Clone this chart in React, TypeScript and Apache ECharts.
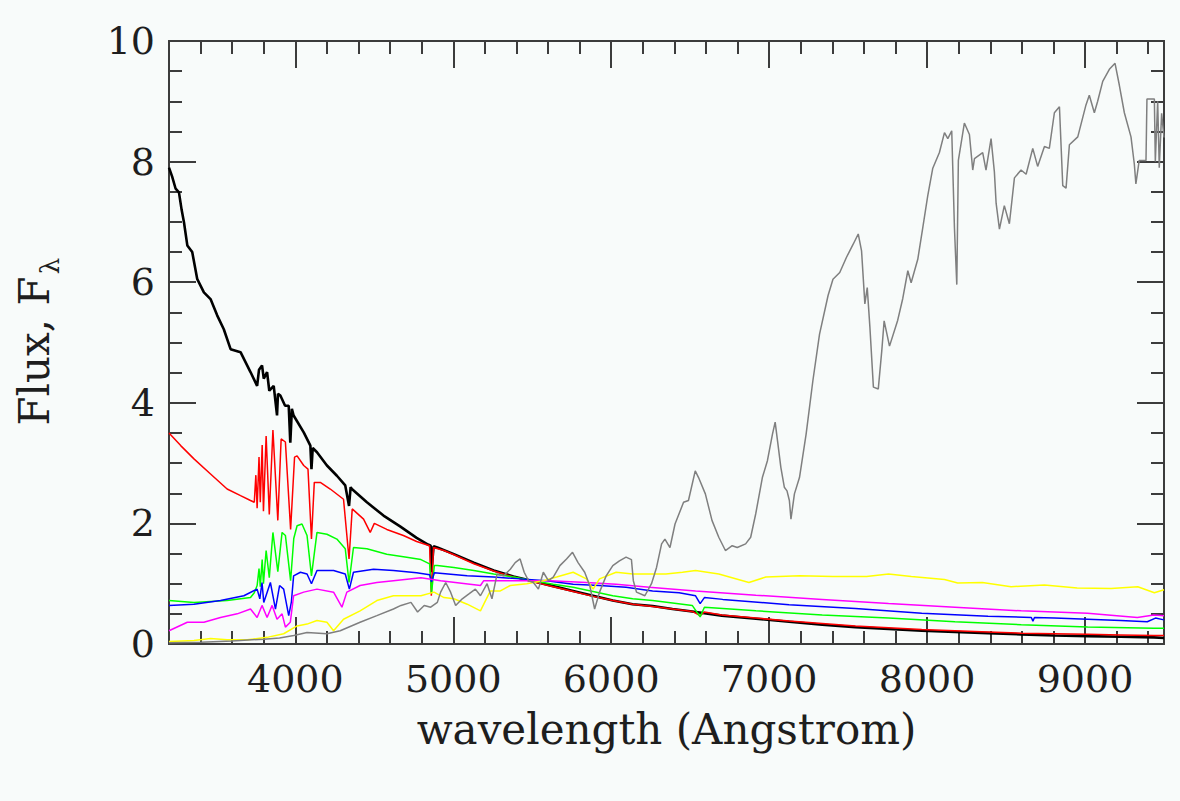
import React, { useEffect, useRef } from "react";
import * as echarts from "echarts";

// ---- axis ticks ----
const xMajor = [4000, 5000, 6000, 7000, 8000, 9000];
const xMinor = [3400, 3600, 3800, 4200, 4400, 4600, 4800, 5200, 5400, 5600, 5800, 6200, 6400, 6600, 6800, 7200, 7400, 7600, 7800, 8200, 8400, 8600, 8800, 9200, 9400];
const yMajor = [0, 2, 4, 6, 8, 10];

// ---- spectra (wavelength in Angstrom, flux F_lambda) ----
const wlBlack = [3200, 3220, 3242, 3263, 3280, 3295, 3316, 3347, 3379, 3421, 3463, 3505, 3547, 3590, 3653, 3716, 3758, 3770, 3789, 3800, 3821, 3835, 3863, 3884, 3890, 3905, 3935, 3958, 3968, 3978, 3989, 4053, 4095, 4102, 4110, 4137, 4200, 4263, 4316, 4340, 4350, 4358, 4453, 4558, 4663, 4768, 4840, 4857, 4862, 4875, 4899, 5004, 5130, 5256, 5381, 5507, 5633, 5759, 5885, 6010, 6136, 6262, 6388, 6513, 6700, 6916, 7126, 7336, 7546, 7756, 7966, 8176, 8386, 8596, 8806, 9016, 9226, 9436, 9500];
const fxBlack = [7.9, 7.75, 7.55, 7.49, 7.2, 6.99, 6.61, 6.5, 6.05, 5.83, 5.72, 5.45, 5.22, 4.89, 4.84, 4.51, 4.28, 4.55, 4.62, 4.4, 4.51, 4.2, 4.28, 3.79, 4.15, 4.12, 3.95, 3.95, 3.34, 3.9, 3.79, 3.51, 3.29, 2.9, 3.25, 3.18, 2.96, 2.79, 2.63, 2.29, 2.6, 2.57, 2.35, 2.13, 1.95, 1.76, 1.65, 1.63, 1.19, 1.62, 1.6, 1.49, 1.35, 1.22, 1.12, 1.04, 0.96, 0.88, 0.8, 0.72, 0.66, 0.63, 0.58, 0.54, 0.47, 0.42, 0.37, 0.32, 0.28, 0.25, 0.22, 0.2, 0.18, 0.16, 0.14, 0.13, 0.12, 0.11, 0.1];

const wlRed = [3200, 3274, 3358, 3463, 3568, 3653, 3716, 3740, 3750, 3758, 3770, 3778, 3790, 3798, 3815, 3835, 3858, 3889, 3910, 3937, 3970, 3995, 4011, 4053, 4080, 4102, 4120, 4158, 4221, 4305, 4340, 4360, 4432, 4474, 4500, 4579, 4684, 4768, 4850, 4861, 4875, 4941, 5004, 5130, 5256, 5381, 5507, 5633, 5759, 5885, 6010, 6136, 6262, 6388, 6513, 6563, 6590, 6700, 6916, 7126, 7336, 7546, 7756, 7966, 8176, 8386, 8596, 8806, 9016, 9226, 9436, 9500];
const fxRed = [3.5, 3.29, 3.07, 2.82, 2.57, 2.46, 2.38, 2.35, 2.8, 2.25, 3.1, 2.35, 3.3, 2.2, 3.45, 2.15, 3.55, 2.05, 3.4, 3.35, 1.9, 3.1, 3.12, 2.96, 2.9, 1.74, 2.68, 2.68, 2.57, 2.4, 1.41, 2.24, 2.07, 1.85, 2.0, 1.9, 1.8, 1.7, 1.63, 0.8, 1.6, 1.55, 1.48, 1.33, 1.21, 1.11, 1.03, 0.95, 0.87, 0.79, 0.72, 0.66, 0.62, 0.58, 0.54, 0.47, 0.53, 0.48, 0.43, 0.38, 0.34, 0.3, 0.27, 0.24, 0.22, 0.2, 0.18, 0.17, 0.16, 0.15, 0.14, 0.14];

const wlGreen = [3200, 3358, 3568, 3716, 3740, 3758, 3770, 3778, 3790, 3798, 3815, 3835, 3858, 3889, 3916, 3937, 3970, 3990, 4011, 4042, 4074, 4102, 4137, 4200, 4263, 4316, 4340, 4368, 4453, 4579, 4705, 4795, 4850, 4862, 4880, 4899, 5004, 5130, 5256, 5381, 5507, 5633, 5759, 5885, 6010, 6136, 6262, 6388, 6513, 6563, 6590, 6916, 7336, 7756, 8176, 8596, 9016, 9436, 9500];
const fxGreen = [0.72, 0.69, 0.72, 0.77, 0.85, 0.97, 1.25, 0.95, 1.4, 1.0, 1.55, 1.1, 1.85, 1.2, 1.85, 1.8, 1.05, 1.75, 1.96, 1.99, 1.8, 1.13, 1.85, 1.82, 1.74, 1.58, 1.02, 1.6, 1.58, 1.49, 1.44, 1.4, 1.33, 0.84, 1.3, 1.3, 1.27, 1.22, 1.16, 1.11, 1.05, 0.99, 0.94, 0.87, 0.8, 0.75, 0.72, 0.68, 0.64, 0.45, 0.61, 0.55, 0.48, 0.43, 0.37, 0.32, 0.28, 0.26, 0.26];

const wlBlue = [3200, 3358, 3526, 3674, 3758, 3775, 3789, 3800, 3842, 3874, 3900, 3926, 3958, 3975, 3989, 4032, 4074, 4102, 4137, 4242, 4316, 4342, 4368, 4495, 4621, 4768, 4850, 4862, 4880, 5088, 5256, 5423, 5591, 5759, 5926, 6094, 6262, 6430, 6534, 6563, 6590, 6706, 7126, 7546, 7966, 8386, 8660, 8670, 8680, 8806, 9226, 9394, 9446, 9500];
const fxBlue = [0.64, 0.66, 0.72, 0.8, 0.91, 0.75, 1.02, 0.69, 1.02, 0.58, 0.97, 0.91, 0.47, 0.7, 1.13, 1.19, 1.16, 1.0, 1.22, 1.22, 1.16, 0.91, 1.19, 1.24, 1.22, 1.18, 1.15, 1.03, 1.18, 1.13, 1.11, 1.08, 1.05, 0.99, 0.97, 0.94, 0.88, 0.85, 0.8, 0.67, 0.77, 0.74, 0.65, 0.59, 0.51, 0.46, 0.44, 0.38, 0.44, 0.43, 0.39, 0.37, 0.43, 0.4];

const wlMagenta = [3200, 3316, 3421, 3526, 3632, 3716, 3758, 3789, 3821, 3853, 3884, 3916, 3937, 3968, 3989, 4053, 4137, 4242, 4295, 4326, 4410, 4516, 4621, 4795, 4920, 5172, 5193, 5402, 5612, 5843, 6031, 6241, 6534, 6916, 7336, 7756, 8176, 8596, 9016, 9331, 9436, 9500];
const fxMagenta = [0.22, 0.36, 0.36, 0.44, 0.5, 0.58, 0.44, 0.64, 0.44, 0.64, 0.41, 0.5, 0.28, 0.36, 0.8, 0.86, 0.91, 0.86, 0.61, 0.86, 0.97, 1.02, 1.05, 1.1, 1.05, 0.97, 1.05, 1.05, 1.05, 1.02, 0.99, 0.94, 0.88, 0.81, 0.74, 0.67, 0.61, 0.55, 0.51, 0.44, 0.48, 0.47];

const wlYellow = [3200, 3358, 3463, 3568, 3695, 3821, 3926, 4011, 4074, 4137, 4200, 4242, 4305, 4410, 4516, 4621, 4705, 4795, 4878, 4941, 5004, 5088, 5172, 5193, 5235, 5298, 5361, 5465, 5570, 5654, 5759, 5843, 5885, 5926, 6031, 6136, 6241, 6346, 6451, 6534, 6681, 6872, 6979, 7192, 7404, 7617, 7756, 7900, 8110, 8194, 8350, 8532, 8743, 8950, 9165, 9334, 9439, 9500];
const fxYellow = [0.04, 0.06, 0.09, 0.07, 0.07, 0.11, 0.17, 0.3, 0.33, 0.39, 0.36, 0.22, 0.41, 0.55, 0.72, 0.8, 0.8, 0.8, 0.86, 0.77, 0.75, 0.66, 0.55, 0.66, 0.88, 0.88, 0.97, 1.0, 1.05, 1.11, 1.19, 1.08, 0.91, 1.08, 1.19, 1.16, 1.16, 1.16, 1.19, 1.22, 1.16, 1.02, 1.11, 1.13, 1.12, 1.12, 1.16, 1.12, 1.07, 1.01, 1.02, 0.95, 0.98, 0.93, 0.92, 0.95, 0.85, 0.9];

const wlGray = [3200, 3400, 3600, 3800, 3900, 3990, 4074, 4200, 4284, 4410, 4516, 4621, 4669, 4732, 4774, 4816, 4857, 4899, 4920, 4952, 4983, 5015, 5057, 5099, 5140, 5172, 5214, 5245, 5277, 5319, 5361, 5392, 5423, 5449, 5476, 5507, 5539, 5570, 5602, 5633, 5675, 5717, 5755, 5790, 5832, 5864, 5895, 5926, 5968, 6010, 6052, 6094, 6128, 6140, 6160, 6213, 6255, 6287, 6319, 6340, 6372, 6404, 6458, 6489, 6532, 6553, 6596, 6638, 6681, 6723, 6766, 6798, 6851, 6883, 6915, 6957, 6989, 7021, 7038, 7053, 7074, 7096, 7113, 7128, 7138, 7160, 7192, 7234, 7277, 7319, 7373, 7404, 7447, 7489, 7532, 7564, 7585, 7606, 7621, 7638, 7660, 7691, 7713, 7728, 7762, 7814, 7846, 7878, 7899, 7941, 7973, 8004, 8036, 8078, 8110, 8131, 8156, 8173, 8188, 8198, 8236, 8268, 8289, 8300, 8352, 8373, 8405, 8426, 8437, 8458, 8489, 8521, 8553, 8595, 8627, 8669, 8700, 8743, 8774, 8806, 8838, 8859, 8880, 8901, 8954, 9006, 9027, 9059, 9080, 9112, 9154, 9190, 9217, 9249, 9291, 9312, 9322, 9343, 9386, 9392, 9439, 9445, 9460, 9470, 9485, 9500];
const fxGray = [0.02, 0.03, 0.05, 0.08, 0.1, 0.14, 0.19, 0.17, 0.22, 0.36, 0.47, 0.58, 0.64, 0.69, 0.53, 0.64, 0.61, 0.69, 0.86, 1.02, 0.86, 0.64, 0.75, 0.83, 0.91, 0.8, 1.0, 0.75, 1.16, 1.13, 1.24, 1.35, 1.41, 1.19, 1.05, 1.02, 0.91, 1.19, 1.05, 1.11, 1.3, 1.41, 1.52, 1.35, 1.19, 0.97, 0.58, 0.86, 1.13, 1.3, 1.38, 1.44, 1.4, 1.05, 0.86, 0.8, 1.0, 1.27, 1.66, 1.74, 1.6, 1.99, 2.35, 2.38, 2.87, 2.76, 2.49, 2.05, 1.77, 1.55, 1.63, 1.6, 1.66, 1.77, 2.16, 2.76, 3.04, 3.48, 3.68, 3.37, 2.93, 2.6, 2.54, 2.38, 2.07, 2.49, 2.76, 3.48, 4.37, 5.14, 5.78, 6.05, 6.16, 6.41, 6.63, 6.8, 6.52, 5.64, 5.91, 5.25, 4.26, 4.23, 4.86, 5.36, 4.94, 5.37, 5.73, 6.19, 5.99, 6.38, 6.91, 7.43, 7.89, 8.15, 8.48, 8.38, 8.51, 6.91, 5.96, 8.02, 8.64, 8.45, 7.86, 8.05, 8.15, 7.86, 8.38, 7.83, 7.31, 6.88, 7.27, 6.97, 7.73, 7.86, 7.79, 8.22, 7.92, 8.25, 8.22, 8.81, 8.91, 7.6, 7.56, 8.28, 8.41, 8.94, 9.1, 8.81, 9.0, 9.33, 9.53, 9.63, 9.27, 8.81, 8.41, 7.96, 7.63, 8.02, 8.02, 9.04, 9.04, 8.0, 9.0, 7.9, 8.8, 8.4];

const zip = (xs: number[], ys: number[]) => xs.map((x, i) => [x, ys[i]]);

const FONT = '"DejaVu Serif", "Liberation Serif", serif';
const AXIS_COLOR = "#3c3c3c";

export default function App() {
  const ref = useRef<HTMLDivElement>(null);

  useEffect(() => {
    document.body.style.margin = "0";
    const chart = echarts.init(ref.current!, null, { renderer: "svg" });

    const baseX = (position: "bottom" | "top", custom: number[], len: number, labels: boolean) => ({
      type: "value",
      position,
      min: 3200,
      max: 9500,
      axisLine: { show: true, onZero: false, lineStyle: { color: AXIS_COLOR, width: 2 } },
      axisTick: { show: true, inside: true, length: len, customValues: custom, lineStyle: { color: AXIS_COLOR, width: 2 } },
      axisLabel: labels
        ? {
            show: true,
            customValues: xMajor,
            formatter: (v: number) => String(v),
            fontFamily: FONT,
            fontSize: 38,
            color: "#1e1e1e",
            margin: 16,
          }
        : { show: false },
      splitLine: { show: false },
    });

    const baseY = (position: "left" | "right", labels: boolean) => ({
      type: "value",
      position,
      min: 0,
      max: 10,
      interval: 2,
      axisLine: { show: true, onZero: false, lineStyle: { color: AXIS_COLOR, width: 2 } },
      axisTick: { show: true, inside: true, length: 27, lineStyle: { color: AXIS_COLOR, width: 2 } },
      minorTick: { show: true, splitNumber: 4, length: 13, lineStyle: { color: AXIS_COLOR, width: 2 } },
      axisLabel: labels
        ? {
            show: true,
            customValues: yMajor,
            formatter: (v: number) => String(v),
            fontFamily: FONT,
            fontSize: 38,
            color: "#1e1e1e",
            margin: 14,
          }
        : { show: false },
      splitLine: { show: false },
      minorSplitLine: { show: false },
    });

    const line = (name: string, data: number[][], color: string, width: number) => ({
      name,
      type: "line",
      data,
      xAxisIndex: 0,
      yAxisIndex: 0,
      showSymbol: false,
      symbol: "none",
      lineStyle: { color, width },
      itemStyle: { color },
      silent: true,
    });

    chart.setOption({
      animation: false,
      backgroundColor: "#f8fbfa",
      grid: { left: 169, right: 16, top: 41, bottom: 157, outerBoundsMode: "none" },
      xAxis: [
        {
          ...baseX("bottom", xMajor, 27, true),
          name: "wavelength (Angstrom)",
          nameLocation: "middle",
          nameGap: 64,
          nameTextStyle: { fontFamily: FONT, fontSize: 42, color: "#1e1e1e" },
        },
        baseX("bottom", xMinor, 13, false),
        baseX("top", xMajor, 27, false),
        baseX("top", xMinor, 13, false),
      ],
      yAxis: [baseY("left", true), baseY("right", false)],
      graphic: [
        {
          type: "text",
          x: 34,
          y: 351,
          rotation: Math.PI / 2,
          style: { text: "Flux, F", font: `42px ${FONT}`, fill: "#1e1e1e", align: "center", verticalAlign: "middle" },
        },
        {
          type: "text",
          x: 50,
          y: 266,
          rotation: Math.PI / 2,
          style: { text: "λ", font: `26px ${FONT}`, fill: "#1e1e1e", align: "center", verticalAlign: "middle" },
        },
      ],
      series: [
        line("black", zip(wlBlack, fxBlack), "#000000", 2.6),
        line("red", zip(wlRed, fxRed), "#ff0000", 1.5),
        line("green", zip(wlGreen, fxGreen), "#00ff00", 1.5),
        line("blue", zip(wlBlue, fxBlue), "#0000ff", 1.5),
        line("magenta", zip(wlMagenta, fxMagenta), "#ff00ff", 1.5),
        line("yellow", zip(wlYellow, fxYellow), "#ffff00", 1.5),
        line("gray", zip(wlGray, fxGray), "#7f7f7f", 1.5),
      ],
    });

    return () => chart.dispose();
  }, []);

  return <div ref={ref} style={{ width: 1180, height: 801, position: "absolute", left: 0, top: 0 }} />;
}
